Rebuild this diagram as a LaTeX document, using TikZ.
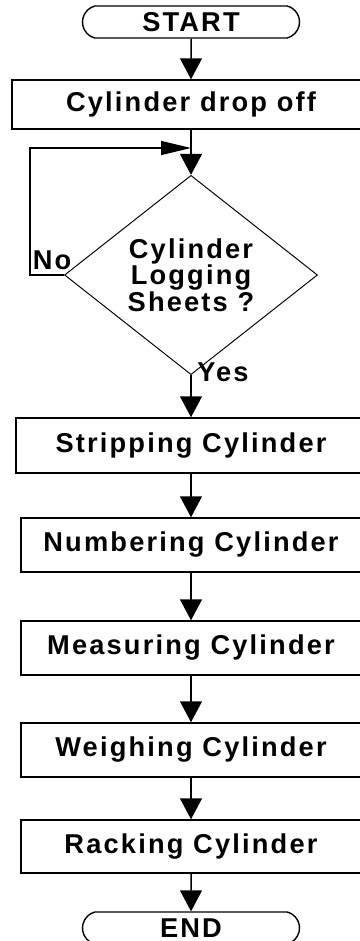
\documentclass[tikz,border=0pt]{standalone}
\usepackage{fontspec}
\setmainfont{Liberation Sans}
\newfontfamily\flowfont{Liberation Sans}[LetterSpace=8]
\usetikzlibrary{arrows.meta, shapes.geometric, shapes.misc}

\begin{document}
\begin{tikzpicture}[
  font=\flowfont\bfseries\fontsize{15.5}{15}\selectfont,
  terminal/.style={
    draw, line width=0.8pt, rounded rectangle, rounded rectangle arc length=150,
    minimum width=4.34cm, minimum height=0.64cm, inner sep=0pt
  },
  process/.style={
    draw, line width=0.85pt, rectangle,
    minimum height=1.08cm, inner sep=0pt
  },
  decision/.style={
    draw, line width=0.55pt, diamond, align=center,
    minimum width=5.06cm, minimum height=3.4cm, inner sep=0pt
  },
  flow/.style={line width=0.85pt, -{Triangle[width=0.44cm, length=0.42cm]}},
  back/.style={line width=0.85pt, -{Triangle[width=0.28cm, length=0.6cm]}},
  answer/.style={inner sep=0pt},
]
\useasboundingbox (0,0) rectangle (7.18,-18.82);

% Start and first step
\node[terminal] (start) at (3.82, -0.44) {START};
\node[process, minimum width=7.16cm, minimum height=0.98cm] (drop) at (3.82, -2.09) {Cylinder drop off};

% Decision with the loop back on the left
\coordinate (join) at (3.82, -2.96);
\node[decision] (check) at (3.82, -5.50) {Cylinder\\Logging\\Sheets ?};
\coordinate (loopa) at (0.60, -5.50);
\coordinate (loopb) at (0.60, -2.96);

% Processing steps
\node[process, minimum width=7.0cm, minimum height=1.10cm] (strip) at (3.82, -8.91)  {Stripping Cylinder};
\node[process, minimum width=6.8cm] (number) at (3.82, -10.90) {Numbering Cylinder};
\node[process, minimum width=6.8cm] (measure) at (3.82, -12.96) {Measuring Cylinder};
\node[process, minimum width=6.8cm] (weigh) at (3.82, -15.00) {Weighing Cylinder};
\node[process, minimum width=6.8cm, minimum height=1.06cm] (rack) at (3.82, -16.93) {Racking Cylinder};
\node[terminal] (end) at (3.82, -18.56) {END};

% Connectors
\draw[flow] (start) -- (drop);
\draw[line width=0.85pt] (drop) -- (join);
\draw[flow] (join) -- (check.north);
\draw[back] (check.west) -- (loopa) -- (loopb) -- (join);
\node[answer] (no) at (1.04, -5.20) {No};
\draw[flow] (check.south) -- (strip);
\node[answer, anchor=west] (yes) at (3.94, -7.44) {Yes};
\draw[flow] (strip) -- (number);
\draw[flow] (number) -- (measure);
\draw[flow] (measure) -- (weigh);
\draw[flow] (weigh) -- (rack);
\draw[flow] (rack) -- (end);

\end{tikzpicture}
\end{document}
